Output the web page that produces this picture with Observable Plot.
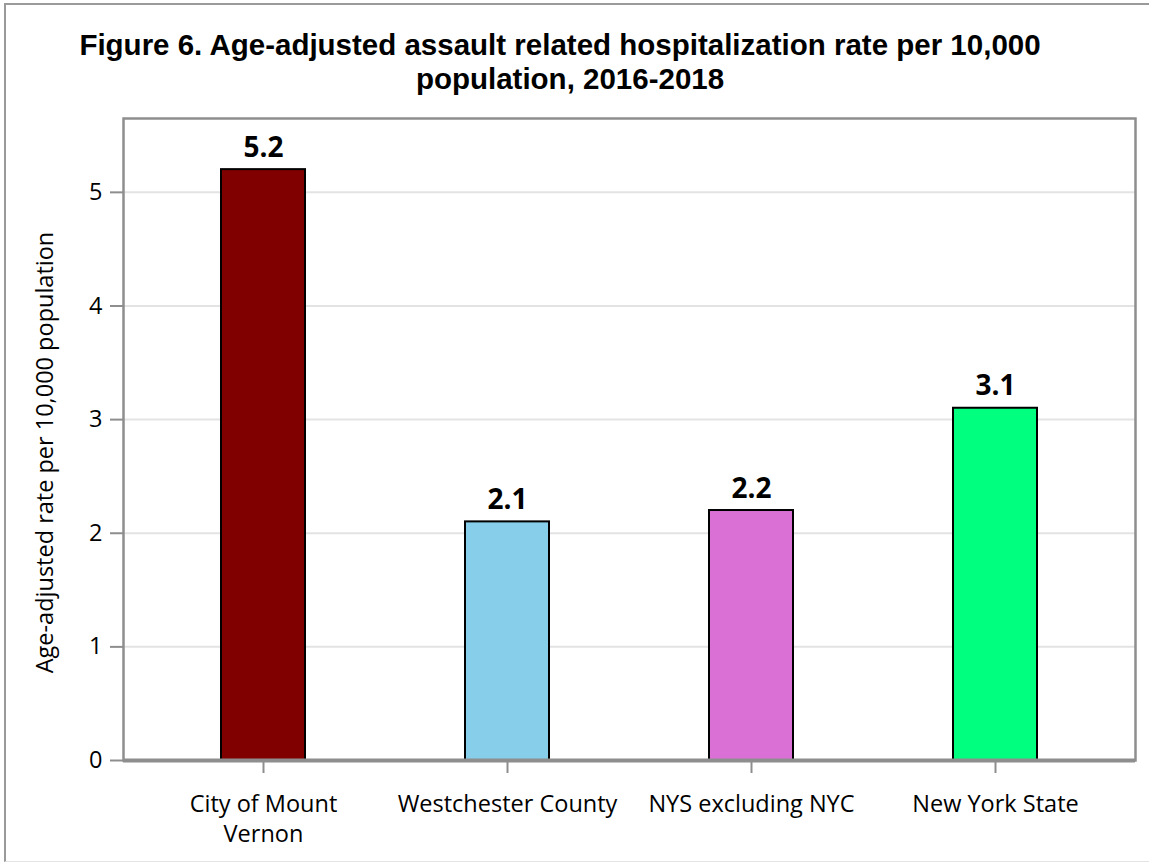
<!DOCTYPE html>
<html>
<head>
<meta charset="utf-8">
<script src="https://cdn.jsdelivr.net/npm/d3@7"></script>
<script src="https://cdn.jsdelivr.net/npm/@observablehq/plot@0.6"></script>
<style>
  html, body { margin: 0; padding: 0; background: #fff; }
  #page { position: relative; width: 1149px; height: 865px; overflow: hidden; background: #fff; }
  #border { position: absolute; left: 4px; top: 3px; width: 1147px; height: 859px;
            border-top: 2px solid #9a9a9a; border-left: 2px solid #9a9a9a; border-bottom: 1px solid #e4e4e4;
            box-sizing: border-box; pointer-events: none; }
  .title { position: absolute; left: 0; font-family: "Liberation Sans", Arial, sans-serif; font-weight: bold;
           font-size: 29.5px; line-height: 34px; text-align: center; color: #000; white-space: nowrap; }
  #chart { position: absolute; left: 0; top: 100px; }
</style>
</head>
<body>
<div id="page">
  <div id="border"></div>
  <div class="title" id="t1" style="top:28px; width:1120px;"></div>
  <div class="title" id="t2" style="top:62px; width:1140px;"></div>
  <div id="chart"></div>
</div>
<script>
const titleLines = ["Figure 6. Age-adjusted assault related hospitalization rate per 10,000", "population, 2016-2018"];
const categories = ["City of Mount Vernon", "Westchester County", "NYS excluding NYC", "New York State"];
const tickLabels = ["City of Mount\nVernon", "Westchester County", "NYS excluding NYC", "New York State"];
const rates = [5.2, 2.1, 2.2, 3.1];
const barColors = ["#800000", "#87CEEB", "#DA70D6", "#00FF7F"];
const yTicks = [0, 1, 2, 3, 4, 5];
const yLabel = "Age-adjusted rate per 10,000 population";

document.getElementById("t1").textContent = titleLines[0];
document.getElementById("t2").textContent = titleLines[1];

const data = categories.map((c, i) => ({cat: c, rate: rates[i]}));
const labelOf = new Map(categories.map((c, i) => [c, tickLabels[i]]));

const chart = Plot.plot({
  width: 1149,
  height: 765,
  marginTop: 18,
  marginBottom: 105,
  marginLeft: 123,
  marginRight: 14,
  style: {fontFamily: "'Open Sans', sans-serif", fontSize: "23.5px", background: "transparent", color: "#000"},
  x: {domain: categories, paddingInner: 0.657, paddingOuter: 0.396, label: null},
  y: {domain: [0, 5.65], label: null},
  color: {domain: categories, range: barColors},
  marks: [
    Plot.gridY(yTicks, {stroke: "#e3e3e3", strokeWidth: 2, strokeOpacity: 1}),
    Plot.barY(data, {x: "cat", y: "rate", fill: "cat", stroke: "#000", strokeWidth: 2}),
    Plot.text(data, {x: "cat", y: "rate", text: d => d.rate.toFixed(1), dy: -13, lineAnchor: "bottom",
                     fontWeight: "bold", fontSize: 28, fill: "#000"}),
    Plot.frame({stroke: "#8e8e8e", strokeWidth: 2.5}),
    Plot.ruleY([0], {stroke: "#8e8e8e", strokeWidth: 4}),
    Plot.axisY(yTicks, {tickSize: 13, tickPadding: 8, stroke: "#8e8e8e", strokeWidth: 2, label: null,
                        tickFormat: d => String(d), fontSize: 23.5, fill: "#000"}),
    Plot.axisX({tickSize: 13, tickPadding: 17, stroke: "#8e8e8e", strokeWidth: 2, label: null,
                tickFormat: d => labelOf.get(d), lineHeight: 1.28, fontSize: 23.5, fill: "#000"}),
    Plot.text([yLabel], {frameAnchor: "left", textAnchor: "middle", rotate: -90, dx: -78, dy: 13, text: d => d,
                         fontSize: 23.5, fill: "#000"})
  ]
});
document.getElementById("chart").appendChild(chart);
</script>
</body>
</html>
